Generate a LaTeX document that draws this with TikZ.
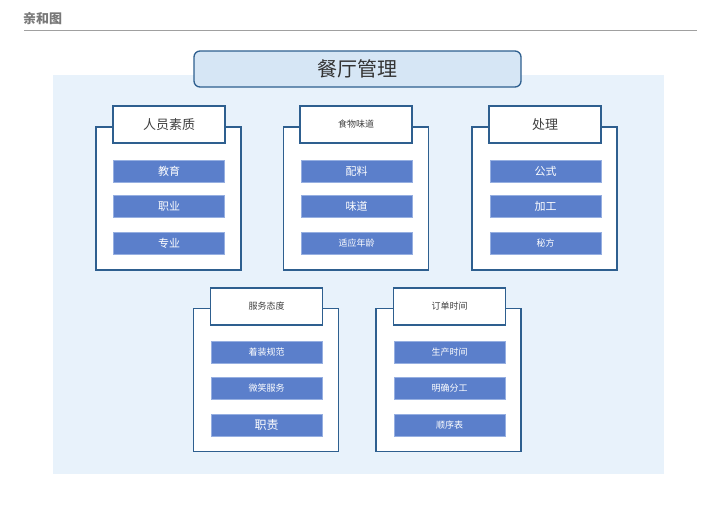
\documentclass[tikz,border=0pt]{standalone}
\usepackage{fontspec}
\newfontfamily\cjk{Noto Sans CJK SC}
\definecolor{framecol}{RGB}{46,95,143}
\definecolor{backcol}{RGB}{232,242,251}
\definecolor{titlecol}{RGB}{214,230,245}
\definecolor{itemcol}{RGB}{91,127,203}
\definecolor{itemline}{RGB}{150,175,225}
\definecolor{captcol}{RGB}{120,120,120}
\begin{document}
\begin{tikzpicture}[x=1pt,y=-1pt]
\tikzstyle{every node}=[inner sep=0pt, font=\cjk]
\tikzstyle{group}=[draw=framecol, line width=1.3pt, fill=white, minimum width=145pt, minimum height=143pt]
\tikzstyle{head}=[draw=framecol, line width=1.3pt, fill=white, minimum width=112pt, minimum height=37pt, text=black!75]
\tikzstyle{item}=[draw=itemline, line width=.5pt, fill=itemcol, minimum width=111pt, minimum height=22pt, text=white]
\tikzstyle{big}=[font=\cjk\fontsize{13}{13}\selectfont]
\tikzstyle{mid}=[font=\cjk\fontsize{11}{11}\selectfont]
\tikzstyle{small}=[font=\cjk\fontsize{9}{9}\selectfont]
\useasboundingbox (0,0) rectangle (720,509);
\node (caption) [anchor=west, text=captcol, font=\cjk\bfseries\fontsize{13}{13}\selectfont] at (23,19) {亲和图};
\draw[captcol!70, line width=1pt] (24,30) -- (697,30);
\node (back) [fill=backcol, minimum width=611pt, minimum height=399pt] at (358.5,274.5) {};
\node (main) [draw=framecol, line width=1.3pt, fill=titlecol, rounded corners=6pt, minimum width=327pt, minimum height=36pt, text=black!80, font=\cjk\fontsize{20}{20}\selectfont] at (357.5,69) {餐厅管理};
% 人员素质
\node (g1) [group] at (168.5,198.5) {};
\node (h1) [head,big] at (169,124.5) {人员素质};
\node (g1a) [item,mid] at (169,171) {教育};
\node (g1b) [item,mid] at (169,206) {职业};
\node (g1c) [item,mid] at (169,243) {专业};
% 食物味道
\node (g2) [group] at (356,198.5) {};
\node (h2) [head,small] at (356,124.5) {食物味道};
\node (g2a) [item,mid] at (356.5,171) {配料};
\node (g2b) [item,mid] at (356.5,206) {味道};
\node (g2c) [item,small] at (356.5,243) {适应年龄};
% 处理
\node (g3) [group] at (544.5,198.5) {};
\node (h3) [head,big] at (545,124.5) {处理};
\node (g3a) [item,mid] at (545.5,171) {公式};
\node (g3b) [item,mid] at (545.5,206) {加工};
\node (g3c) [item,small] at (545.5,243) {秘方};
% 服务态度
\node (g4) [group] at (266,380) {};
\node (h4) [head,small] at (266.5,306.5) {服务态度};
\node (g4a) [item,small] at (266.5,352.5) {着装规范};
\node (g4b) [item,small] at (266.5,388) {微笑服务};
\node (g4c) [item,font=\cjk\fontsize{12}{12}\selectfont] at (266.5,425) {职责};
% 订单时间
\node (g5) [group] at (448.5,380) {};
\node (h5) [head,small] at (449.5,306.5) {订单时间};
\node (g5a) [item,small] at (449.5,352.5) {生产时间};
\node (g5b) [item,small] at (449.5,388) {明确分工};
\node (g5c) [item,small] at (449.5,425) {顺序表};
\end{tikzpicture}
\end{document}
